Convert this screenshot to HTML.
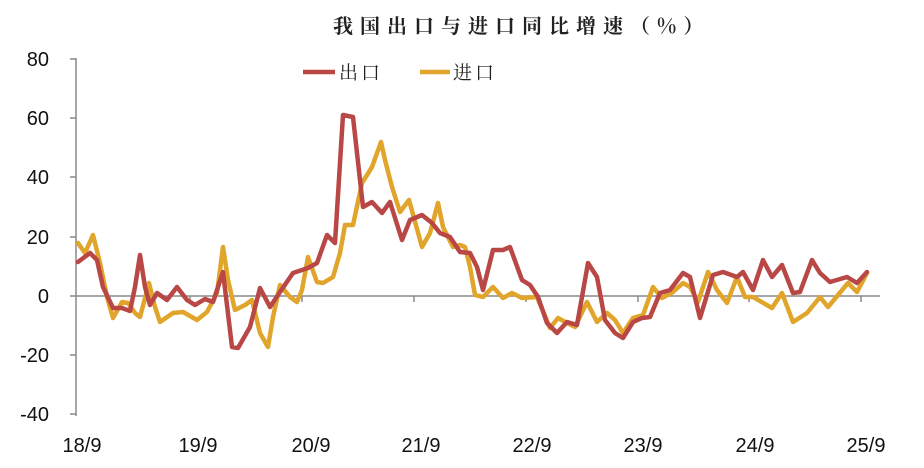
<!DOCTYPE html>
<html><head><meta charset="utf-8"><style>
body{margin:0;background:#fff;}
svg{display:block;}
</style></head><body>
<svg width="924" height="468" viewBox="0 0 924 468" xmlns="http://www.w3.org/2000/svg">
<rect width="924" height="468" fill="#fff"/>
<text x="333" y="33" font-family="'Noto Serif CJK SC','Liberation Serif',serif" font-size="20" font-weight="bold" letter-spacing="7" fill="#222">我国出口与进口同比增速（%）</text>
<line x1="303" y1="72" x2="335" y2="72" stroke="#b94745" stroke-width="4.5"/>
<text x="339" y="79" font-family="'Noto Serif CJK SC',serif" font-size="19" letter-spacing="3" fill="#222">出口</text>
<line x1="420" y1="72" x2="450" y2="72" stroke="#e0a52a" stroke-width="4.5"/>
<text x="453" y="79" font-family="'Noto Serif CJK SC',serif" font-size="19" letter-spacing="3" fill="#222">进口</text>
<g stroke="#888" stroke-width="1.5" fill="none">
<line x1="76" y1="58" x2="76" y2="416"/>
<line x1="76" y1="296" x2="880" y2="296"/>
<line x1="70" y1="59" x2="76" y2="59"/><line x1="70" y1="118" x2="76" y2="118"/>
<line x1="70" y1="177" x2="76" y2="177"/><line x1="70" y1="237" x2="76" y2="237"/>
<line x1="70" y1="296" x2="76" y2="296"/><line x1="70" y1="355" x2="76" y2="355"/>
<line x1="70" y1="414" x2="76" y2="414"/>
<line x1="190" y1="296" x2="190" y2="302"/><line x1="302" y1="296" x2="302" y2="302"/>
<line x1="414" y1="296" x2="414" y2="302"/><line x1="526" y1="296" x2="526" y2="302"/>
<line x1="638" y1="296" x2="638" y2="302"/><line x1="749" y1="296" x2="749" y2="302"/>
<line x1="861" y1="296" x2="861" y2="302"/>
</g>
<g font-family="'Liberation Sans',sans-serif" font-size="20" fill="#111" text-anchor="end">
<text x="49" y="66">80</text><text x="49" y="125">60</text><text x="49" y="184">40</text>
<text x="49" y="244">20</text><text x="49" y="303">0</text><text x="49" y="362">-20</text>
<text x="49" y="421">-40</text>
</g>
<g font-family="'Liberation Sans',sans-serif" font-size="20" fill="#111" text-anchor="middle">
<text x="82" y="452">18/9</text><text x="198" y="452">19/9</text><text x="311" y="452">20/9</text>
<text x="421" y="452">21/9</text><text x="532" y="452">22/9</text><text x="643" y="452">23/9</text>
<text x="755" y="452">24/9</text><text x="866" y="452">25/9</text>
</g>
<polyline fill="none" stroke="#e0a52a" stroke-width="4.5" stroke-linejoin="round" stroke-linecap="round" points="78,243 85,253 93,235 100,263 107,297 113,318 122,302 128,303 135,313 140,317 149,283 155,307 160,322 173,313 183,312 197,320 207,312 217,293 223,247 228,280 235,310 245,305 252,300 260,333 268,347 273,317 280,285 290,297 297,302 302,290 308,257 317,282 323,283 333,277 340,253 345,225 353,225 362,183 372,167 381,142 385,160 392,187 400,212 409,200 422,247 430,233 438,203 443,227 453,247 460,245 465,247 470,267 475,295 483,297 493,287 503,298 512,293 522,298 537,297 550,328 558,318 567,323 575,327 587,302 597,322 607,313 615,320 623,333 633,318 643,315 653,287 662,298 673,292 683,283 690,287 698,302 708,272 717,290 727,303 737,277 745,297 753,297 772,308 782,293 793,322 807,313 820,297 828,307 848,283 857,292 867,273"/>
<polyline fill="none" stroke="#b94745" stroke-width="4.5" stroke-linejoin="round" stroke-linecap="round" points="78,262 90,253 97,260 103,287 113,308 122,308 130,311 135,287 140,255 145,287 150,305 157,293 167,300 177,287 187,300 195,305 205,299 213,302 223,272 232,347 238,348 250,327 260,288 270,307 280,292 293,273 308,268 317,263 327,235 335,243 343,115 353,117 363,207 372,202 382,213 390,202 402,240 410,220 422,215 432,223 440,233 450,237 460,252 470,253 477,267 483,290 493,250 503,250 510,247 522,280 530,285 538,297 547,323 557,333 567,322 577,325 588,263 597,277 605,320 615,333 623,338 633,322 642,318 650,317 660,293 670,290 683,273 690,277 700,318 713,275 723,272 737,277 743,272 753,290 763,260 772,277 782,265 793,293 800,292 812,260 820,273 830,282 847,277 857,283 867,272"/>
</svg>
</body></html>
